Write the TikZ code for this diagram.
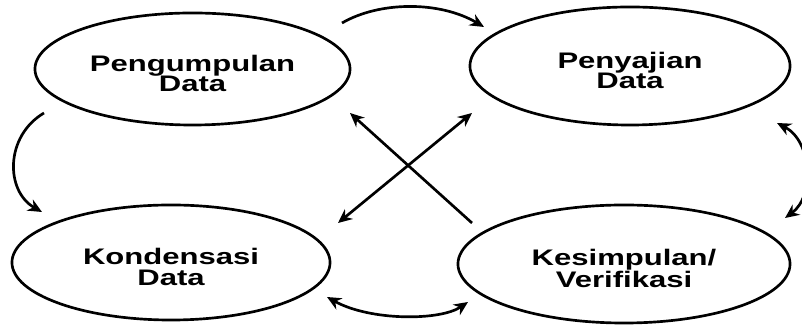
\documentclass[tikz,border=0pt]{standalone}
\usepackage{fontspec}
\newfontfamily\stagefont[FakeStretch=1.38]{Liberation Sans}
\newcommand{\stagestrut}{\rule{0pt}{18pt}}
\usepackage{tikz}
\usetikzlibrary{shapes.geometric, arrows.meta}
\tikzstyle{arrow} = [line width=1.9pt,->,>={Stealth[length=10pt,width=9pt]}]
\tikzstyle{stage} = [draw, ellipse, line width=1.9pt, inner sep=0pt, align=center, font=\stagefont\bfseries\fontsize{16}{14.5}\selectfont]

\begin{document}
\begin{tikzpicture}[x=0.025cm, y=0.025cm]
\useasboundingbox (0,0) rectangle (802,326);
\node[stage, minimum width=7.875cm, minimum height=2.8cm] (pengumpulan) at (192.5,257) {\stagestrut Pengumpulan\\Data};
\node[stage, minimum width=8cm, minimum height=2.95cm] (penyajian) at (630,260) {\stagestrut Penyajian\\Data};
\node[stage, minimum width=7.95cm, minimum height=2.875cm] (kondensasi) at (171,63.5) {\stagestrut Kondensasi\\Data};
\node[stage, minimum width=8.3cm, minimum height=2.95cm] (kesimpulan) at (624,62) {\stagestrut Kesimpulan/\\Verifikasi};
% ends of the curved arrows
\coordinate (pengumpulanNE) at (342,303);
\coordinate (penyajianNW) at (484,299);
\coordinate (pengumpulanSW) at (44,213);
\coordinate (kondensasiNW) at (42,114);
\coordinate (penyajianSE) at (777,203);
\coordinate (kesimpulanNE) at (785,108);
\coordinate (kondensasiSE) at (327,29);
\coordinate (kesimpulanSW) at (468,24);
% ends of the crossing arrows
\coordinate (pengumpulanSE) at (350,213);
\coordinate (penyajianSW) at (472,213);
\coordinate (kondensasiNE) at (338,103);
\coordinate (kesimpulanNW) at (472,103);
\draw[arrow] (pengumpulanNE) .. controls (380,325) and (440,325) .. (penyajianNW);
\draw[arrow] (pengumpulanSW) .. controls (5,190) and (5,135) .. (kondensasiNW);
\draw[arrow,<->] (kesimpulanNE) .. controls (815,130) and (812,185) .. (penyajianSE);
\draw[arrow,<->] (kondensasiSE) .. controls (370,5) and (440,5) .. (kesimpulanSW);
\draw[arrow] (kesimpulanNW) -- (pengumpulanSE);
\draw[arrow,<->] (kondensasiNE) -- (penyajianSW);
\end{tikzpicture}
\end{document}
